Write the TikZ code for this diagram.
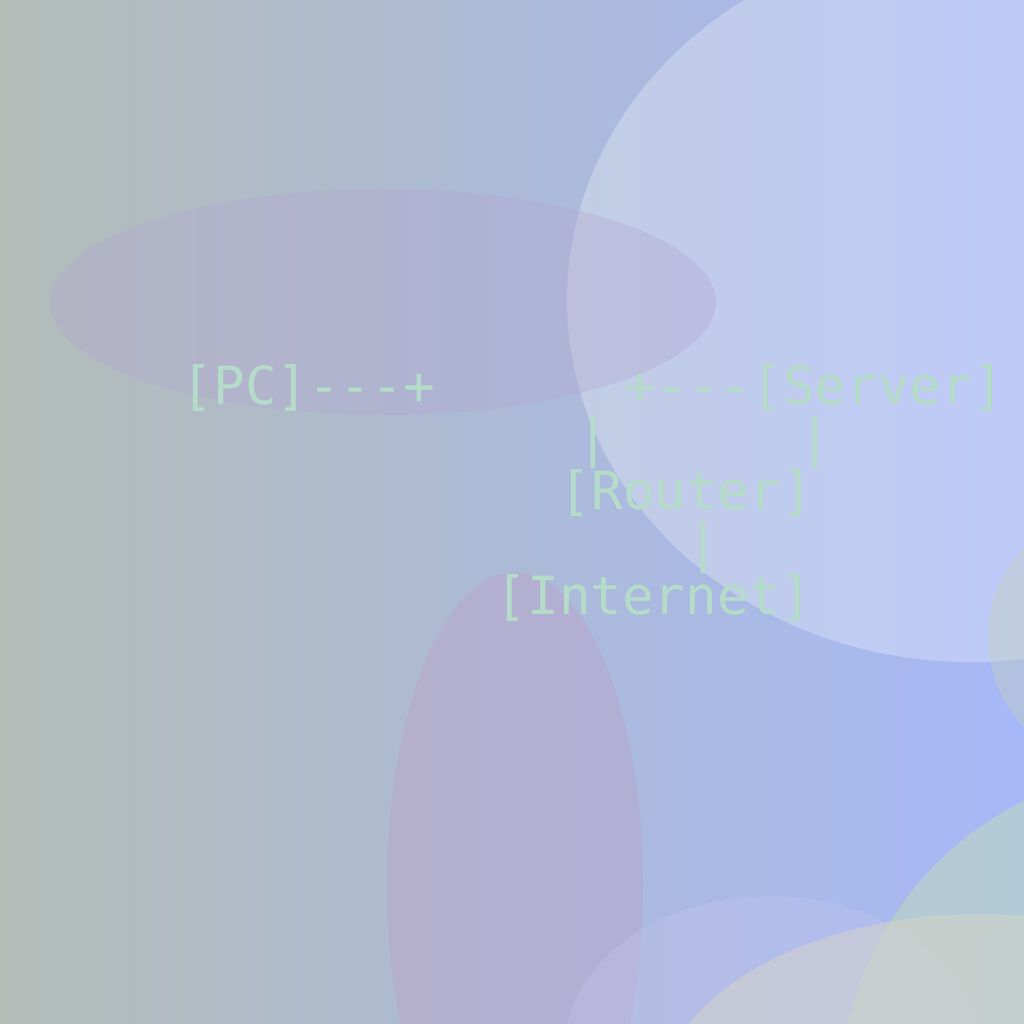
\documentclass[tikz,border=0pt]{standalone}
\usepackage{fontspec}
\setmonofont{DejaVu Sans Mono}
\definecolor{bgleft}{RGB}{179,188,183}
\definecolor{bgright}{RGB}{166,184,247}
\definecolor{mauve}{RGB}{180,170,210}
\definecolor{plum}{RGB}{190,160,200}
\definecolor{sage}{RGB}{200,210,180}
\definecolor{lavender}{RGB}{200,200,240}
\definecolor{sand}{RGB}{220,215,195}
\definecolor{mint}{RGB}{200,230,170}
\definecolor{asciigreen}{RGB}{180,220,200}

\begin{document}
\begin{tikzpicture}[x=0.01cm, y=-0.01cm,
    blob/.style={draw=none, fill opacity=#1},
    ascii/.style={anchor=base west, inner sep=0pt, text=asciigreen, font=\ttfamily\fontsize{14.95pt}{14.95pt}\selectfont}]
    \useasboundingbox (0,0) rectangle (1024,1024);
    \begin{scope}
        \clip (0,0) rectangle (1024,1024);
        \shade [left color=bgleft, right color=bgright] (0,0) rectangle (1024,1024);
        % soft blobs
        \fill [blob=0.28, white] (970,300) ellipse [x radius=403, y radius=362];
        \fill [blob=0.4, mauve] (383,302) ellipse [x radius=333, y radius=113];
        \fill [blob=0.4, plum] (515,885) ellipse [x radius=128, y radius=313];
        \fill [blob=0.35, sage] (1118,637) ellipse [x radius=130, y radius=130];
        \fill [blob=0.4, mint] (1172,1099) ellipse [x radius=333, y radius=333];
        \fill [blob=0.3, lavender] (770,1048) ellipse [x radius=205, y radius=152];
        \fill [blob=0.45, sand] (980,1109) ellipse [x radius=324, y radius=195];
    \end{scope}
    % network sketch
    \node [ascii] (pcline) at (181,404) {[PC]---+~~~~~~+---[Server]};
    \node [ascii] (linkline) at (577,456.5) {|~~~~~~|};
    \node [ascii] (routerline) at (559,509) {[Router]};
    \node [ascii] (upline) at (687,561.5) {|};
    \node [ascii] (internetline) at (495,614) {[Internet]};
\end{tikzpicture}
\end{document}
